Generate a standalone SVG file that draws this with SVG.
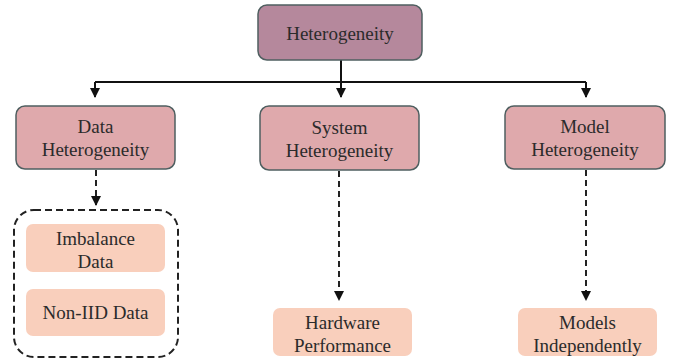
<svg xmlns="http://www.w3.org/2000/svg" width="678" height="360" viewBox="0 0 678 360">
<defs>
<style>
.t{font-family:"Liberation Serif","Times New Roman",serif;font-size:19px;fill:#2b2b2b;text-anchor:middle}
.top{fill:#B5889C;stroke:#4F5F60;stroke-width:1.5}
.mid{fill:#DFA9AC;stroke:#4F5F60;stroke-width:1.5}
.leaf{fill:#F9CFBC;stroke:none}
.ln{stroke:#111;stroke-width:2;fill:none}
.dl{stroke:#222;stroke-width:2;fill:none;stroke-dasharray:6,4}
</style>
<marker id="ah" viewBox="0 0 10 10" refX="9" refY="5" markerWidth="5" markerHeight="5" orient="auto" markerUnits="strokeWidth">
<path d="M0,0 L10,5 L0,10 z" fill="#111"/>
</marker>
</defs>
<g id="connectors">
<line class="ln" x1="341" y1="60" x2="341" y2="97" marker-end="url(#ah)"/>
<line class="ln" x1="95" y1="82" x2="586" y2="82"/>
<line class="ln" x1="95" y1="82" x2="95" y2="97" marker-end="url(#ah)"/>
<line class="ln" x1="586" y1="82" x2="586" y2="97" marker-end="url(#ah)"/>
<line class="dl" x1="96" y1="170" x2="96" y2="205" marker-end="url(#ah)"/>
<line class="dl" x1="339" y1="171" x2="339" y2="300" marker-end="url(#ah)"/>
<line class="dl" x1="586" y1="170" x2="586" y2="300" marker-end="url(#ah)"/>
</g>
<g id="heterogeneity">
<rect class="top" x="258" y="5" width="164" height="55" rx="9"/>
<text class="t" x="340" y="40">Heterogeneity</text>
</g>
<g id="data-heterogeneity">
<rect class="mid" x="16" y="106" width="159" height="63" rx="9"/>
<text class="t" x="95.5" y="133">Data</text>
<text class="t" x="95.5" y="156">Heterogeneity</text>
</g>
<g id="system-heterogeneity">
<rect class="mid" x="260" y="106" width="159" height="64" rx="9"/>
<text class="t" x="339.5" y="134">System</text>
<text class="t" x="339.5" y="157">Heterogeneity</text>
</g>
<g id="model-heterogeneity">
<rect class="mid" x="505" y="106" width="160" height="63" rx="9"/>
<text class="t" x="585" y="133">Model</text>
<text class="t" x="585" y="156">Heterogeneity</text>
</g>
<g id="data-group">
<rect x="14" y="210" width="164" height="147" rx="20" fill="none" stroke="#222" stroke-width="2" stroke-dasharray="7,4"/>
</g>
<g id="imbalance-data">
<rect class="leaf" x="26" y="224" width="139" height="48" rx="7"/>
<text class="t" x="95.5" y="245">Imbalance</text>
<text class="t" x="95.5" y="268">Data</text>
</g>
<g id="non-iid-data">
<rect class="leaf" x="26" y="289" width="139" height="47" rx="7"/>
<text class="t" x="95.5" y="319">Non-IID Data</text>
</g>
<g id="hardware-performance">
<rect class="leaf" x="273" y="308" width="139" height="48" rx="7"/>
<text class="t" x="342.5" y="329">Hardware</text>
<text class="t" x="342.5" y="352">Performance</text>
</g>
<g id="models-independently">
<rect class="leaf" x="518" y="308" width="139" height="48" rx="7"/>
<text class="t" x="587.5" y="329">Models</text>
<text class="t" x="587.5" y="352">Independently</text>
</g>
</svg>
